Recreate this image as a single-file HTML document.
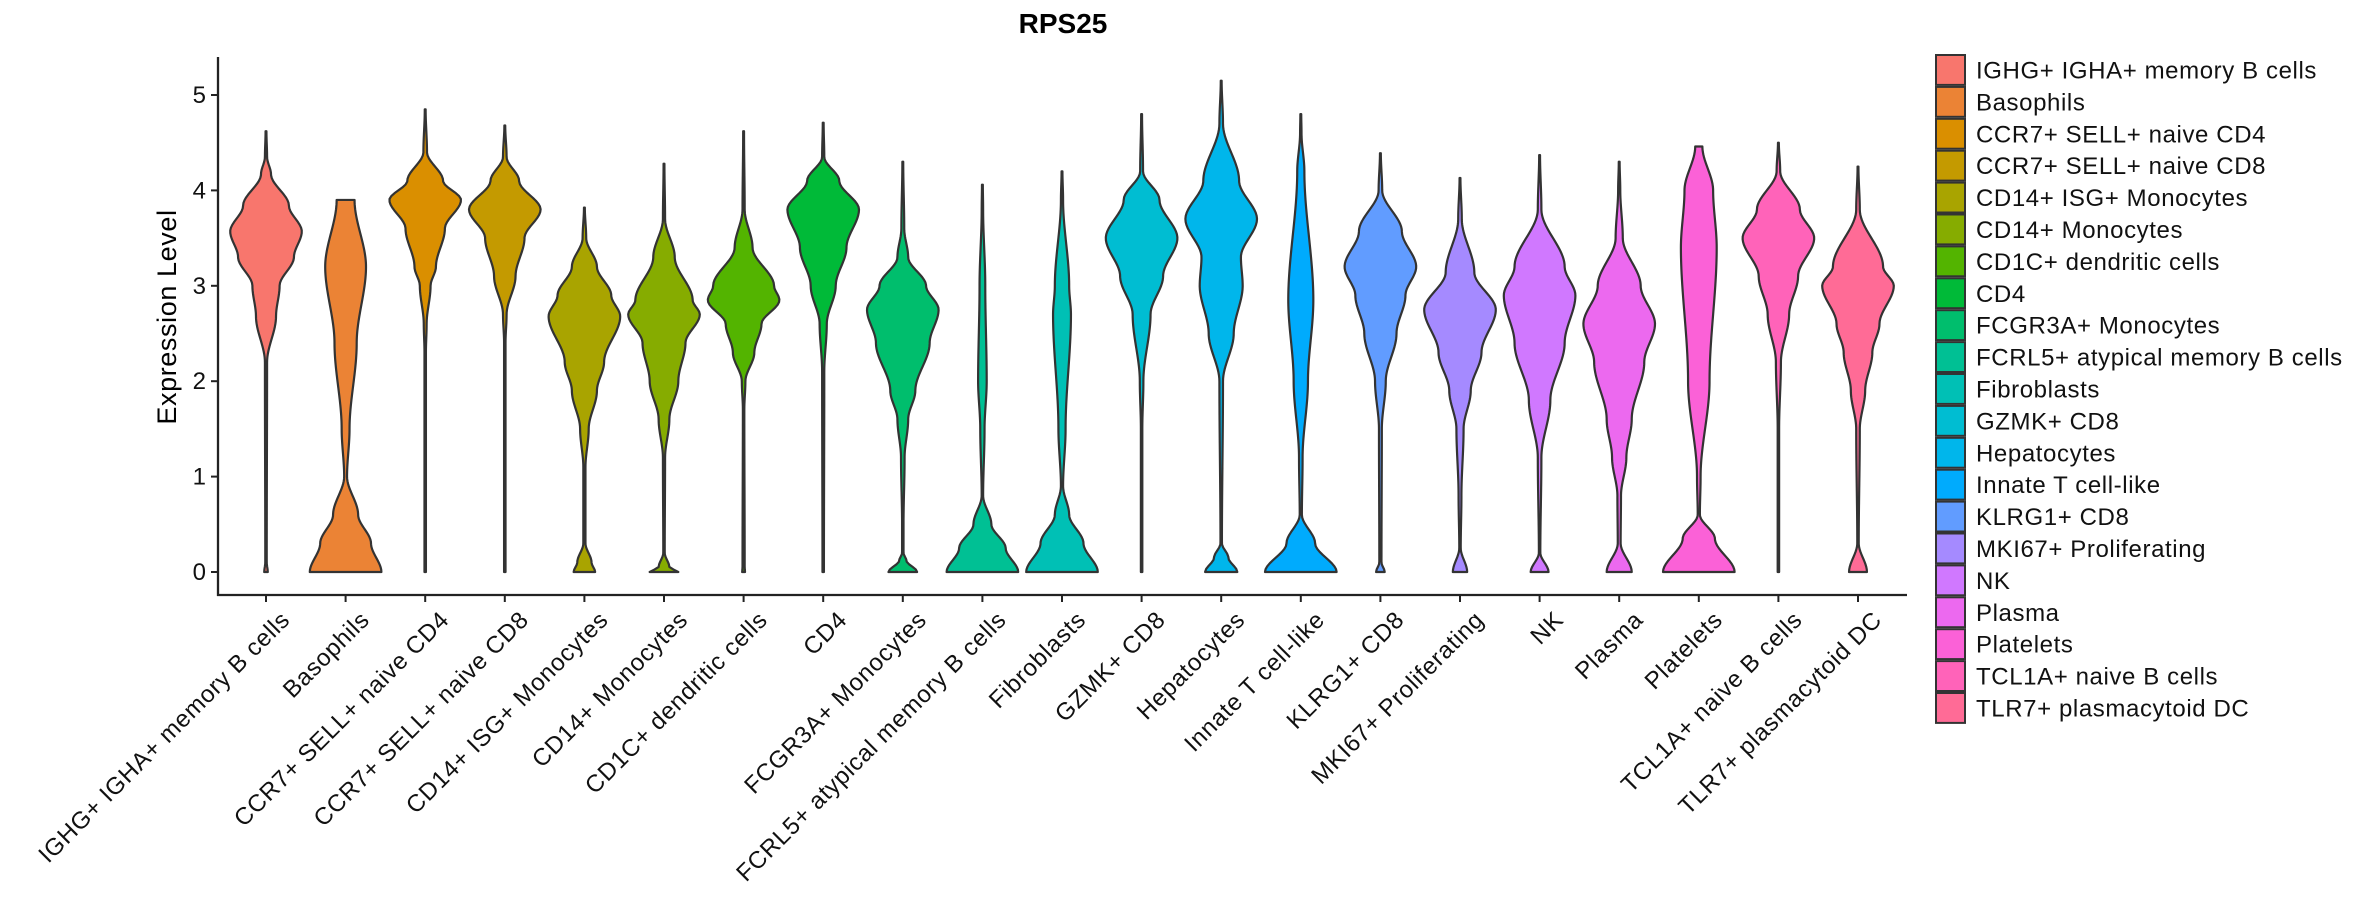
<!DOCTYPE html>
<html><head><meta charset="utf-8"><style>
html,body{margin:0;padding:0;background:#fff;}
svg{display:block;font-family:"Liberation Sans",sans-serif;}
</style></head><body>
<svg id="chart" width="2362" height="900" viewBox="0 0 2362 900" xmlns="http://www.w3.org/2000/svg">
<text x="1063" y="33" text-anchor="middle" font-size="28" font-weight="bold" fill="#000">RPS25</text>
<text transform="translate(176,317) rotate(-90)" text-anchor="middle" font-size="27" letter-spacing="0.6" fill="#000">Expression Level</text>
<g id="plot"></g>
<g id="legend"></g>
</svg>
<script>
const categories = [" IGHG+ IGHA+ memory B cells","Basophils","CCR7+ SELL+ naive CD4","CCR7+ SELL+ naive CD8","CD14+ ISG+ Monocytes","CD14+ Monocytes","CD1C+ dendritic cells","CD4","FCGR3A+ Monocytes","FCRL5+ atypical memory B cells","Fibroblasts","GZMK+ CD8","Hepatocytes","Innate T cell-like","KLRG1+ CD8","MKI67+ Proliferating","NK","Plasma","Platelets","TCL1A+ naive B cells","TLR7+ plasmacytoid DC"];
const yTicks = [0,1,2,3,4,5];
const maxValues = [4.62,3.9,4.85,4.68,3.82,4.28,4.62,4.71,4.3,4.06,4.2,4.8,5.15,4.8,4.39,4.13,4.37,4.3,4.46,4.5,4.25];
// density profiles: [value, relative half-width]
const densities = [
 [[0,0.05],[0.1,0.02],[2.2,0.03],[2.68,0.28],[3.0,0.38],[3.3,0.78],[3.57,1.0],[3.84,0.64],[4.17,0.14],[4.35,0.03]],
 [[0,1.0],[0.3,0.71],[0.6,0.35],[1.0,0.04],[1.5,0.11],[2.4,0.31],[3.2,0.57],[3.9,0.25]],
 [[0,0.02],[2.3,0.02],[2.6,0.04],[3.0,0.15],[3.2,0.3],[3.6,0.55],[3.9,1.0],[4.1,0.5],[4.4,0.05]],
 [[0,0.02],[2.4,0.02],[2.7,0.05],[3.1,0.3],[3.5,0.55],[3.8,1.0],[4.1,0.4],[4.35,0.05]],
 [[0,0.3],[0.1,0.2],[0.3,0.03],[1.1,0.03],[1.5,0.12],[1.9,0.35],[2.2,0.55],[2.68,1.0],[2.9,0.75],[3.2,0.35],[3.5,0.05]],
 [[0,0.4],[0.05,0.15],[0.2,0.02],[1.2,0.03],[1.6,0.15],[2.0,0.4],[2.4,0.6],[2.7,1.0],[2.85,0.8],[3.3,0.3],[3.7,0.03]],
 [[0,0.04],[0.05,0.03],[1.7,0.02],[2.0,0.05],[2.3,0.3],[2.6,0.5],[2.85,1.0],[3.0,0.85],[3.4,0.25],[3.8,0.03]],
 [[0,0.02],[2.1,0.03],[2.6,0.1],[3.0,0.35],[3.4,0.65],[3.8,1.0],[4.1,0.45],[4.35,0.03]],
 [[0,0.4],[0.12,0.1],[0.2,0.02],[0.5,0.02],[1.2,0.05],[1.6,0.15],[1.9,0.35],[2.4,0.75],[2.75,1.0],[3.0,0.65],[3.3,0.15],[3.6,0.04]],
 [[0,1.0],[0.25,0.65],[0.5,0.25],[0.8,0.02],[1.5,0.06],[2.0,0.12],[3.0,0.08],[3.8,0.02]],
 [[0,1.0],[0.3,0.6],[0.6,0.2],[0.9,0.03],[1.5,0.1],[2.7,0.25],[3.0,0.2],[3.9,0.03]],
 [[0,0.02],[1.5,0.02],[2.0,0.05],[2.7,0.25],[3.1,0.6],[3.5,1.0],[3.9,0.5],[4.2,0.04]],
 [[0,0.45],[0.15,0.2],[0.3,0.02],[2.0,0.05],[2.5,0.35],[3.0,0.6],[3.3,0.55],[3.7,1.0],[4.1,0.5],[4.7,0.05]],
 [[0,1.0],[0.3,0.4],[0.6,0.03],[1.2,0.05],[2.0,0.2],[2.85,0.35],[4.2,0.1],[4.6,0.02]],
 [[0,0.12],[0.1,0.03],[1.5,0.04],[2.0,0.15],[2.5,0.45],[2.9,0.7],[3.2,1.0],[3.57,0.6],[4.0,0.05]],
 [[0,0.2],[0.25,0.02],[0.8,0.04],[1.5,0.1],[1.9,0.3],[2.3,0.6],[2.75,1.0],[3.14,0.4],[3.7,0.05]],
 [[0,0.25],[0.2,0.02],[1.2,0.05],[1.8,0.3],[2.4,0.7],[2.9,1.0],[3.2,0.7],[3.8,0.05]],
 [[0,0.35],[0.3,0.04],[0.8,0.05],[1.2,0.2],[1.6,0.35],[2.2,0.7],[2.6,1.0],[3.0,0.6],[3.5,0.1],[4.0,0.03]],
 [[0,1.0],[0.35,0.45],[0.6,0.03],[1.0,0.05],[2.0,0.3],[3.4,0.5],[4.0,0.4],[4.46,0.1]],
 [[0,0.02],[1.5,0.02],[2.2,0.07],[2.7,0.3],[3.1,0.55],[3.5,1.0],[3.8,0.6],[4.2,0.05]],
 [[0,0.25],[0.3,0.02],[1.5,0.05],[1.9,0.2],[2.3,0.4],[2.6,0.6],[3.0,1.0],[3.2,0.7],[3.8,0.05]]
];
const flatTop = [false,true,false,false,false,false,false,false,false,false,false,false,false,false,false,false,false,false,true,false,false];

function hcl(h,c,l){
  const hr=h*Math.PI/180, L=l, U=c*Math.cos(hr), V=c*Math.sin(hr);
  const un=0.1978398, vn=0.4683363;
  const Y = L>8 ? Math.pow((L+16)/116,3) : L/903.3;
  const up=U/(13*L)+un, vp=V/(13*L)+vn;
  const X=9*Y*up/(4*vp), Z=-X/3-5*Y+3*Y/vp;
  let r=3.240479*X-1.53715*Y-0.498535*Z, g=-0.969256*X+1.875992*Y+0.041556*Z, b=0.055648*X-0.204043*Y+1.057311*Z;
  const gm=v=>{v=v<=0.0031308?12.92*v:1.055*Math.pow(v,1/2.4)-0.055;return Math.round(Math.max(0,Math.min(1,v))*255);};
  return `rgb(${gm(r)},${gm(g)},${gm(b)})`;
}
const n=categories.length;
const colors=categories.map((_,i)=>hcl(15+i*360/n,100,65));

const NS="http://www.w3.org/2000/svg";
const plot=document.getElementById('plot');
const legend=document.getElementById('legend');
const X0=218, X1=1907, Y0=572, PXU=95.4, XAXIS=595, YTOP=57;
const firstX=266, stepX=79.6, halfMax=35.8;
const xPos=i=>firstX+i*stepX;
const yPos=v=>Y0-v*PXU;

function mk(tag,attrs,parent){const e=document.createElementNS(NS,tag);for(const k in attrs)e.setAttribute(k,attrs[k]);parent.appendChild(e);return e;}

function interp(pts,v){
  if(v<=pts[0][0])return pts[0][1];
  for(let k=0;k<pts.length-1;k++){
    const a=pts[k],b=pts[k+1];
    if(v<=b[0]){const t=(v-a[0])/(b[0]-a[0]);const s=t*t*(3-2*t);return a[1]+(b[1]-a[1])*s;}
  }
  return pts[pts.length-1][1];
}

densities.forEach((pts,i)=>{
  const cx=xPos(i), top=maxValues[i];
  const last=pts[pts.length-1];
  const all=pts.concat(flatTop[i]?[[top,last[1]]]:[[top,0.012]]);
  const N=160, right=[], left=[];
  for(let s=0;s<=N;s++){
    const v=top*s/N;
    let w=Math.max(interp(all,v),0.012)*halfMax;
    right.push([cx+w,yPos(v)]);left.push([cx-w,yPos(v)]);
  }
  let d="M"+left[0][0].toFixed(2)+","+left[0][1].toFixed(2);
  right.forEach(p=>d+="L"+p[0].toFixed(2)+","+p[1].toFixed(2));
  left.slice().reverse().forEach(p=>d+="L"+p[0].toFixed(2)+","+p[1].toFixed(2));
  d+="Z";
  const p=mk('path',{d:d,fill:colors[i],stroke:'#333333','stroke-width':2.2,'stroke-linejoin':'round'},plot);
  
  
});

const ya=mk('line',{x1:X0,y1:YTOP,x2:X0,y2:XAXIS+1,stroke:'#222',"stroke-width":2.3},plot);


const xa=mk('line',{x1:X0-1,y1:XAXIS,x2:X1,y2:XAXIS,stroke:'#222',"stroke-width":2.3},plot);



yTicks.forEach(t=>{
  const y=yPos(t);
  const tk=mk('line',{x1:X0-7,y1:y,x2:X0,y2:y,stroke:'#222',"stroke-width":2},plot);
  
  
  const tx=mk('text',{x:X0-12,y:y+8,'text-anchor':'end','font-size':24,fill:'#111'},plot);
  tx.textContent=t;
  
  
});

categories.forEach((c,i)=>{
  const x=xPos(i);
  const tk=mk('line',{x1:x,y1:XAXIS,x2:x,y2:XAXIS+7,stroke:'#222',"stroke-width":2},plot);
  
  
  const ax=x+13, ay=609;
  const tx=mk('text',{x:ax,y:ay,'text-anchor':'end','font-size':24,'letter-spacing':0.7,fill:'#111',dy:'0.72em',transform:`rotate(-45 ${ax} ${ay})`},plot);
  tx.textContent=c.trim();
  
  
});

const LX=1936, LY=54, ROW=31.9;
categories.forEach((c,i)=>{
  const y=LY+i*ROW;
  const r=mk('rect',{x:LX,y:y+1,width:29,height:ROW-2,fill:colors[i],stroke:'#333','stroke-width':2},legend);
  
  
  const t=mk('text',{x:LX+40,y:y+ROW/2+8.5,'font-size':24,'letter-spacing':0.6,fill:'#111','xml:space':'preserve'},legend);
  t.textContent=c;
  
  
});
</script>
</body></html>
